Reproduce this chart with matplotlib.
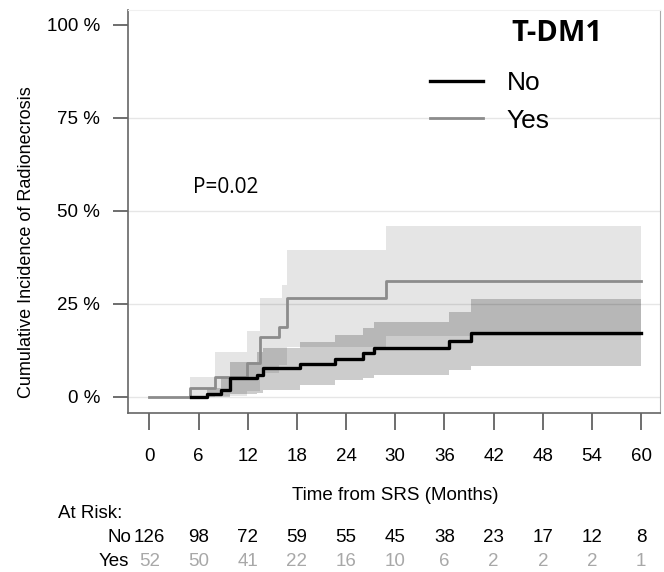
import numpy as np
import matplotlib.pyplot as plt
import matplotlib.transforms as mtransforms

# step curves (months, %)
no_t = [5.1, 7.0, 8.7, 9.9, 13.1, 13.9, 18.4, 22.7, 26.1, 27.4, 36.6, 39.3, 60]
no_cif = [0, 0.8, 1.9, 5.2, 5.9, 7.7, 8.9, 10.1, 11.7, 13.1, 15.1, 17.3, 17.3]
no_upper = [0, 2.5, 5.0, 9.5, 12.0, 13.1, 14.9, 16.7, 18.5, 20.2, 22.9, 26.3, 26.3]
no_lower = [0, 0, 0, 0.8, 1.2, 1.9, 3.2, 4.6, 5.0, 5.8, 7.3, 8.3, 8.3]

yes_t = [0, 5.0, 8.0, 11.9, 13.5, 15.8, 16.2, 16.8, 28.9, 60]
yes_cif = [0, 2.3, 5.5, 9.0, 16.2, 18.9, 18.9, 26.5, 31.2, 31.2]
yes_upper = [0, 5.5, 12.2, 17.6, 26.6, 26.6, 30.1, 39.5, 46.0, 46.0]
yes_lower = [0, 0, 0.3, 1.5, 6.5, 8.5, 8.5, 13.5, 16.5, 16.5]

risk_times = [0, 6, 12, 18, 24, 30, 36, 42, 48, 54, 60]
risk_no = [126, 98, 72, 59, 55, 45, 38, 23, 17, 12, 8]
risk_yes = [52, 50, 41, 22, 16, 10, 6, 2, 2, 2, 1]

y_ticks = [0, 25, 50, 75, 100]

plt.rcParams['font.family'] = ['Liberation Sans', 'DejaVu Sans']

fig = plt.figure(figsize=(6.64, 5.72), dpi=100)
ax = fig.add_axes([0.1928, 0.278, 0.8012, 0.7045])

# confidence bands
ax.fill_between(yes_t, yes_lower, yes_upper, step='post', color='black', alpha=0.10, lw=0)
ax.fill_between(no_t, no_lower, no_upper, step='post', color='black', alpha=0.20, lw=0)

ax.step(yes_t, yes_cif, where='post', color='#8c8c8c', lw=2.0, label='Yes', zorder=3)
ax.step(no_t, no_cif, where='post', color='black', lw=2.4, label='No', zorder=4)

ax.set_xlim(-2.6, 62.3)
ax.set_ylim(-4.3, 104)
ax.set_xticks(risk_times)
ax.set_yticks(y_ticks)
ax.set_yticklabels([f'{v} %' for v in y_ticks])
for v in y_ticks[:-1]:
    ax.axhline(v, color='#e6e6e6', lw=1, zorder=0)

ax.tick_params(axis='x', length=12, width=1.2, color='#555555', pad=13, labelsize=13.5)
ax.tick_params(axis='y', length=11, width=1.2, color='#555555', pad=9, labelsize=13.5)
ax.spines['left'].set_color('#666666')
ax.spines['bottom'].set_color('#666666')
ax.spines['left'].set_linewidth(1.2)
ax.spines['bottom'].set_linewidth(1.2)
ax.spines['right'].set_color('#aaaaaa')
ax.spines['top'].set_color('#f0f0f0')

ax.set_ylabel('Cumulative Incidence of Radionecrosis', fontsize=13)
ax.yaxis.set_label_coords(-0.175, 0.425)

handles, labels = ax.get_legend_handles_labels()
ax.legend(handles[::-1], labels[::-1], loc='upper left',
          bbox_to_anchor=(0.6476, 0.876), bbox_transform=fig.transFigure,
          frameon=False, fontsize=19, handlelength=2.0, handletextpad=0.9,
          labelspacing=0.52, borderpad=0, borderaxespad=0)
fig.text(0.839, 0.941, 'T-DM1', ha='center', va='center',
         fontsize=21, fontweight='bold', family=['Open Sans', 'DejaVu Sans'])
fig.text(0.290, 0.673, 'P=0.02', ha='left', va='center',
         fontsize=15, family=['Open Sans', 'DejaVu Sans'])

# at-risk table under the axis
tr = mtransforms.blended_transform_factory(ax.transData, fig.transFigure)
fig.text(0.595, 0.134, 'Time from SRS (Months)', ha='center', va='center', fontsize=13.5)
fig.text(0.087, 0.103, 'At Risk:', ha='left', va='center', fontsize=13.5)
fig.text(0.198, 0.0595, 'No', ha='right', va='center', fontsize=13.5)
fig.text(0.194, 0.0175, 'Yes', ha='right', va='center', fontsize=13.5)
for t, n_no, n_yes in zip(risk_times, risk_no, risk_yes):
    ax.text(t, 0.0595, str(n_no), transform=tr, ha='center', va='center',
            fontsize=13.5, color='black')
    ax.text(t, 0.0175, str(n_yes), transform=tr, ha='center', va='center',
            fontsize=13.5, color='#a8a8a8')

fig.savefig('out.png', dpi=100)
